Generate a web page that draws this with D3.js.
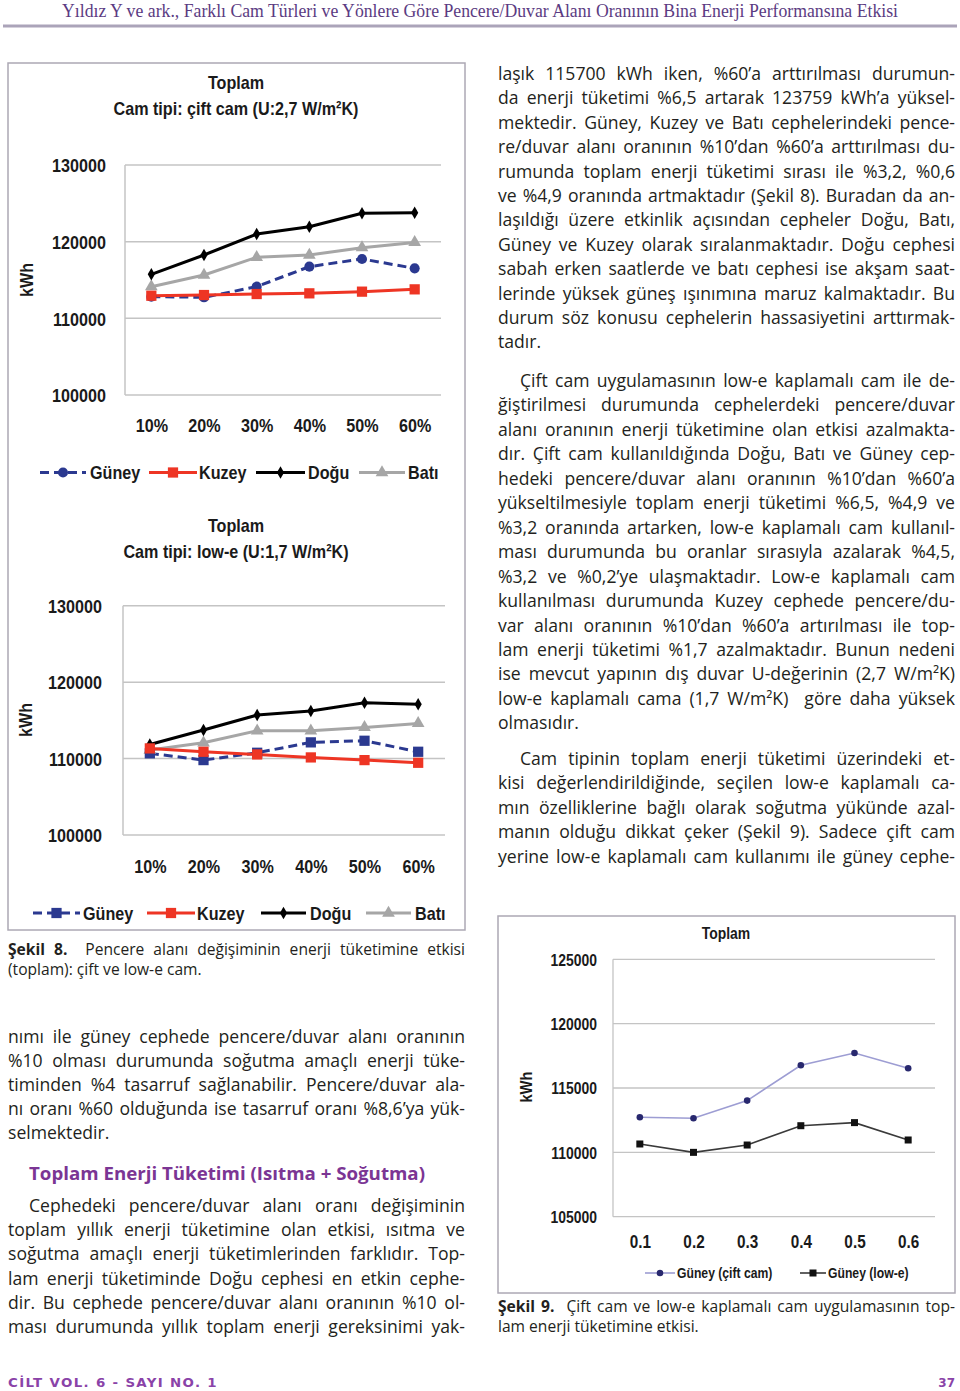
<!DOCTYPE html>
<html><head><meta charset="utf-8">
<script src="https://cdn.jsdelivr.net/npm/d3@7"></script>
<style>
html,body{margin:0;padding:0;background:#fff;}
svg{display:block;}
</style></head>
<body>
<script>
// ---------- DATA ----------
const cats = ["10%","20%","30%","40%","50%","60%"];
const yTicks1 = [100000,110000,120000,130000];
const ciftGuney = [112830,112740,114130,116740,117740,116520];
const ciftKuzey = [112950,113040,113170,113260,113480,113780];
const ciftDogu  = [115743,118260,121000,121950,123700,123759];
const ciftBati  = [114130,115650,117960,118260,119220,119900];
const loweGuney = [110680,109800,110760,112120,112330,110890];
const loweKuzey = [111330,110890,110540,110150,109800,109450];
const loweDogu  = [111850,113730,115690,116210,117300,117120];
const loweBati  = [111110,112070,113640,113640,114080,114600];
const cats9 = ["0.1","0.2","0.3","0.4","0.5","0.6"];
const yTicks9 = [105000,110000,115000,120000,125000];
const s9Cift = [112730,112650,114020,116770,117720,116530];
const s9Lowe = [110650,110000,110570,112070,112310,110960];
const seriesNames = ["Güney","Kuzey","Doğu","Batı"];
const legend9 = ["Güney (çift cam)","Güney (low-e)"];

const headerText = "Yıldız Y ve ark., Farklı Cam Türleri ve Yönlere Göre Pencere/Duvar Alanı Oranının Bina Enerji Performansına Etkisi";
const rightP1 = [
"laşık 115700 kWh iken, %60’a arttırılması durumun-",
"da enerji tüketimi %6,5 artarak 123759 kWh’a yüksel-",
"mektedir. Güney, Kuzey ve Batı cephelerindeki pence-",
"re/duvar alanı oranının %10’dan %60’a arttırılması du-",
"rumunda toplam enerji tüketimi sırası ile %3,2, %0,6",
"ve %4,9 oranında artmaktadır (Şekil 8). Buradan da an-",
"laşıldığı üzere etkinlik açısından cepheler Doğu, Batı,",
"Güney ve Kuzey olarak sıralanmaktadır. Doğu cephesi",
"sabah erken saatlerde ve batı cephesi ise akşam saat-",
"lerinde yüksek güneş ışınımına maruz kalmaktadır. Bu",
"durum söz konusu cephelerin hassasiyetini arttırmak-",
"tadır."];
const rightP2 = [
"Çift cam uygulamasının low-e kaplamalı cam ile de-",
"ğiştirilmesi durumunda cephelerdeki pencere/duvar",
"alanı oranının enerji tüketimine olan etkisi azalmakta-",
"dır. Çift cam kullanıldığında Doğu, Batı ve Güney cep-",
"hedeki pencere/duvar alanı oranının %10’dan %60’a",
"yükseltilmesiyle toplam enerji tüketimi %6,5, %4,9 ve",
"%3,2 oranında artarken, low-e kaplamalı cam kullanıl-",
"ması durumunda bu oranlar sırasıyla azalarak %4,5,",
"%3,2 ve %0,2’ye ulaşmaktadır. Low-e kaplamalı cam",
"kullanılması durumunda Kuzey cephede pencere/du-",
"var alanı oranının %10’dan %60’a artırılması ile top-",
"lam enerji tüketimi %1,7 azalmaktadır. Bunun nedeni",
"ise mevcut yapının dış duvar U-değerinin (2,7 W/m²K)",
"low-e kaplamalı cama (1,7 W/m²K)  göre daha yüksek",
"olmasıdır."];
const rightP3 = [
"Cam tipinin toplam enerji tüketimi üzerindeki et-",
"kisi değerlendirildiğinde, seçilen low-e kaplamalı ca-",
"mın özelliklerine bağlı olarak soğutma yükünde azal-",
"manın olduğu dikkat çeker (Şekil 9). Sadece çift cam",
"yerine low-e kaplamalı cam kullanımı ile güney cephe-"];
const leftP1 = [
"nımı ile güney cephede pencere/duvar alanı oranının",
"%10 olması durumunda soğutma amaçlı enerji tüke-",
"timinden %4 tasarruf sağlanabilir. Pencere/duvar ala-",
"nı oranı %60 olduğunda ise tasarruf oranı %8,6’ya yük-",
"selmektedir."];
const leftHeading = "Toplam Enerji Tüketimi (Isıtma + Soğutma)";
const leftP2 = [
"Cephedeki pencere/duvar alanı oranı değişiminin",
"toplam yıllık enerji tüketimine olan etkisi, ısıtma ve",
"soğutma amaçlı enerji tüketimlerinden farklıdır. Top-",
"lam enerji tüketiminde Doğu cephesi en etkin cephe-",
"dir. Bu cephede pencere/duvar alanı oranının %10 ol-",
"ması durumunda yıllık toplam enerji gereksinimi yak-"];
const cap8 = ["Şekil 8.", "  Pencere alanı değişiminin enerji tüketimine etkisi", "(toplam): çift ve low-e cam."];
const cap9 = ["Şekil 9.", "  Çift cam ve low-e kaplamalı cam uygulamasının top-", "lam enerji tüketimine etkisi."];

// ---------- SETUP ----------
const W = 960, H = 1391;
const svg = d3.select("body").append("svg").attr("width", W).attr("height", H);
const TXT = "#231f20";
const BODY_FONT = "'Open Sans', Lato, sans-serif";
const CH_FONT = "'Liberation Sans', Arial, sans-serif";

function condense(sel, f){
  sel.each(function(){
    const w = this.getComputedTextLength();
    d3.select(this).attr("textLength", w*f).attr("lengthAdjust","spacingAndGlyphs");
  });
}
function justify(textNode, target){
  const w = textNode.getComputedTextLength();
  const n = (textNode.textContent.trim().match(/ /g) || []).length;
  if (w > target) {
    d3.select(textNode).attr("textLength", target).attr("lengthAdjust","spacingAndGlyphs");
  } else if (n > 0) {
    d3.select(textNode).style("word-spacing", ((target - w)/n) + "px");
  }
}

// ---------- HEADER / FOOTER ----------
const hdr = svg.append("text").attr("x", 480).attr("y", 17).attr("text-anchor","middle")
  .attr("font-family","'Liberation Serif', 'DejaVu Serif', serif").attr("font-size",18)
  .attr("fill","#5b3b82").text(headerText);
hdr.attr("textLength", 836).attr("lengthAdjust","spacingAndGlyphs");
svg.append("line").attr("x1",3).attr("x2",957).attr("y1",26).attr("y2",26)
  .attr("stroke","#aba4b9").attr("stroke-width",3);

const ft = svg.append("text").attr("x",8).attr("y",1387).attr("font-family","'DejaVu Sans', sans-serif")
  .attr("font-weight","bold").attr("font-size",12).attr("fill","#8a43a8").attr("letter-spacing",1.2)
  .attr("xml:space","preserve").style("white-space","pre")
  .text("CİLT VOL. 6 - SAYI NO. 1");
ft.attr("textLength",210).attr("lengthAdjust","spacingAndGlyphs");
svg.append("text").attr("x",955).attr("y",1387).attr("text-anchor","end")
  .attr("font-family","'DejaVu Sans', sans-serif").attr("font-weight","bold").attr("font-size",12)
  .attr("fill","#8a43a8").text("37");

// ---------- BODY TEXT ----------
function drawPara(lines, o){
  const g = svg.append("g");
  lines.forEach((ln, i) => {
    const isLast = i === lines.length - 1;
    const x = o.x + (i === 0 && o.indent ? o.indent : 0);
    const t = g.append("text").attr("x", x).attr("y", o.y + i*o.lh)
      .attr("font-family", BODY_FONT).attr("font-size", o.size).attr("fill", TXT)
      .attr("xml:space","preserve").style("white-space","pre").text(ln);
    if (!isLast || o.lastJust) justify(t.node(), o.x + o.w - x);
  });
}
const BS = 17.6;
drawPara(rightP1, {x:498, w:457, y:80, lh:24.4, size:BS, lastJust:false});
drawPara(rightP2, {x:498, w:457, y:387, lh:24.45, size:BS, indent:22, lastJust:false});
drawPara(rightP3, {x:498, w:457, y:765, lh:24.4, size:BS, indent:22, lastJust:true});
drawPara(leftP1, {x:8, w:457, y:1043, lh:23.9, size:BS, lastJust:false});
const hd = svg.append("text").attr("x",29).attr("y",1180).attr("font-family",BODY_FONT).attr("font-weight","bold")
  .attr("font-size",18.5).attr("fill","#7b3594").text(leftHeading);
hd.attr("textLength",396).attr("lengthAdjust","spacingAndGlyphs");
drawPara(leftP2, {x:8, w:457, y:1212, lh:24.2, size:BS, indent:21, lastJust:true});

function caption(c, x, y, w){
  const t1 = svg.append("text").attr("x",x).attr("y",y).attr("font-family",BODY_FONT)
    .attr("font-size",15.6).attr("fill",TXT).attr("xml:space","preserve").style("white-space","pre");
  t1.append("tspan").attr("font-weight","bold").text(c[0]);
  t1.append("tspan").text(c[1]);
  justify(t1.node(), w);
  svg.append("text").attr("x",x).attr("y",y+20).attr("font-family",BODY_FONT)
    .attr("font-size",15.6).attr("fill",TXT).text(c[2]);
}
caption(cap8, 8, 955, 457);
caption(cap9, 498, 1312, 457);

// ---------- CHART FRAMES ----------
svg.append("rect").attr("x",8).attr("y",63).attr("width",457).attr("height",867)
  .attr("fill","none").attr("stroke","#aca8b4").attr("stroke-width",1.5);
svg.append("rect").attr("x",498).attr("y",916).attr("width",457).attr("height",377)
  .attr("fill","none").attr("stroke","#aca8b4").attr("stroke-width",1.5);

const COL = {Güney:"#2b3990", Kuzey:"#ee3524", Doğu:"#000000", Batı:"#a6a6a6"};

function chartText(g, x, y, txt, size, anchor, f){
  const t = g.append("text").attr("x",x).attr("y",y).attr("text-anchor",anchor||"middle")
    .attr("font-family",CH_FONT).attr("font-weight","bold").attr("font-size",size).attr("fill","#1a1a1a").text(txt);
  condense(t, f||0.85);
  return t;
}

function symbolPath(kind){
  if (kind === "circle") return d3.symbol(d3.symbolCircle, 80)();
  if (kind === "square") return d3.symbol(d3.symbolSquare, 105)();
  if (kind === "diamond") return d3.symbol(d3.symbolDiamond, 45)();
  if (kind === "triangle") return d3.symbol(d3.symbolTriangle, 70)();
}

function facadeChart(o){
  const g = svg.append("g");
  const x = d3.scalePoint(cats, [o.x0, o.x1]).padding(0.5);
  const y = d3.scaleLinear([100000,130000], [o.yb, o.yt]);
  chartText(g, 236, o.titleY, "Toplam", 19);
  chartText(g, 236, o.titleY+26, o.sub, 19);
  g.selectAll(".grid").data(yTicks1).join("line")
    .attr("x1",o.x0).attr("x2",o.x1).attr("y1",d=>y(d)).attr("y2",d=>y(d))
    .attr("stroke","#c4c4c4").attr("stroke-width",1.5);
  g.append("line").attr("x1",o.x0).attr("x2",o.x0).attr("y1",o.yt).attr("y2",o.yb)
    .attr("stroke","#c4c4c4").attr("stroke-width",1.5);
  const ya = g.append("g").attr("transform",`translate(${o.x0 - o.lpad},0)`)
    .call(d3.axisLeft(y).tickValues(yTicks1).tickSize(0).tickPadding(0).tickFormat(d3.format("d")));
  ya.select(".domain").remove();
  ya.selectAll("text").attr("x",0).attr("dy","0.36em").attr("font-family",CH_FONT)
    .attr("font-weight","bold").attr("font-size",19).attr("fill","#1a1a1a");
  condense(ya.selectAll("text"), 0.85);
  const xa = g.append("g").attr("transform",`translate(0,${o.xlabY})`)
    .call(d3.axisBottom(x).tickSize(0).tickPadding(0));
  xa.select(".domain").remove();
  xa.selectAll("text").attr("y",0).attr("dy",0).attr("font-family",CH_FONT)
    .attr("font-weight","bold").attr("font-size",19).attr("fill","#1a1a1a");
  condense(xa.selectAll("text"), 0.85);
  const kw = g.append("text").attr("transform",`translate(${o.kx},${o.ky}) rotate(-90)`)
    .attr("text-anchor","middle").attr("font-family",CH_FONT).attr("font-weight","bold")
    .attr("font-size",19).attr("fill","#1a1a1a").text("kWh");
  condense(kw, 0.85);
  const line = d3.line().x((d,i)=>x(cats[i])).y(d=>y(d));
  o.series.forEach(s => {
    g.append("path").attr("d", line(s.values)).attr("fill","none").attr("stroke",COL[s.name])
      .attr("stroke-width",3).attr("stroke-dasharray", s.dash ? "9,5" : null).attr("stroke-linejoin","round");
  });
  o.series.forEach(s => {
    g.selectAll(null).data(s.values).join("path")
      .attr("transform",(d,i)=>`translate(${x(cats[i])},${y(d)})`)
      .attr("d", symbolPath(s.marker)).attr("fill",COL[s.name]);
  });
  o.legend.forEach((L, i) => {
    const s = o.series.find(q => q.name === L.name);
    g.append("line").attr("x1",L.l0).attr("x2",L.l1).attr("y1",o.legY).attr("y2",o.legY)
      .attr("stroke",COL[s.name]).attr("stroke-width",3).attr("stroke-dasharray", s.dash ? "9,5" : null);
    g.append("path").attr("transform",`translate(${(L.l0+L.l1)/2},${o.legY})`)
      .attr("d", symbolPath(s.marker)).attr("fill",COL[s.name]);
    chartText(g, L.tx, o.legY, s.name, 19, "start").attr("dy","0.36em");
  });
}

facadeChart({
  x0:125, x1:441, yt:165, yb:395, lpad:19, titleY:89, xlabY:432, kx:33, ky:280,
  sub:"Cam tipi: çift cam (U:2,7 W/m²K)",
  series:[
    {name:"Batı", values:ciftBati, marker:"triangle"},
    {name:"Doğu", values:ciftDogu, marker:"diamond"},
    {name:"Güney", values:ciftGuney, marker:"circle", dash:true},
    {name:"Kuzey", values:ciftKuzey, marker:"square"}
  ],
  legY:472.5,
  legend:[
    {name:"Güney", l0:40, l1:86, tx:90},
    {name:"Kuzey", l0:149, l1:197, tx:199},
    {name:"Doğu", l0:256, l1:305, tx:308},
    {name:"Batı", l0:359, l1:405, tx:408}
  ]
});
facadeChart({
  x0:123, x1:445, yt:605.7, yb:835, lpad:21, titleY:532, xlabY:873, kx:32, ky:720,
  sub:"Cam tipi: low-e (U:1,7 W/m²K)",
  series:[
    {name:"Batı", values:loweBati, marker:"triangle"},
    {name:"Doğu", values:loweDogu, marker:"diamond"},
    {name:"Güney", values:loweGuney, marker:"square", dash:true},
    {name:"Kuzey", values:loweKuzey, marker:"square"}
  ],
  legY:913,
  legend:[
    {name:"Güney", l0:33, l1:80, tx:83},
    {name:"Kuzey", l0:147, l1:195, tx:197},
    {name:"Doğu", l0:261, l1:306, tx:310},
    {name:"Batı", l0:366, l1:411, tx:415}
  ]
});

// ---------- CHART 9 ----------
(function(){
  const g = svg.append("g");
  const x0 = 613, x1 = 935, yt = 959.3, yb = 1216.7;
  const x = d3.scalePoint(cats9, [x0, x1]).padding(0.5);
  const y = d3.scaleLinear([105000,125000], [yb, yt]);
  chartText(g, 726, 939, "Toplam", 16, "middle", 0.87);
  g.selectAll(".grid").data(yTicks9).join("line")
    .attr("x1",x0).attr("x2",x1).attr("y1",d=>y(d)).attr("y2",d=>y(d))
    .attr("stroke","#c4c4c4").attr("stroke-width",1.3);
  g.append("line").attr("x1",x0).attr("x2",x0).attr("y1",yt).attr("y2",yb)
    .attr("stroke","#c4c4c4").attr("stroke-width",1.3);
  const ya = g.append("g").attr("transform",`translate(597,0)`)
    .call(d3.axisLeft(y).tickValues(yTicks9).tickSize(0).tickPadding(0).tickFormat(d3.format("d")));
  ya.select(".domain").remove();
  ya.selectAll("text").attr("x",0).attr("dy","0.36em").attr("font-family",CH_FONT)
    .attr("font-weight","bold").attr("font-size",16).attr("fill","#1a1a1a");
  condense(ya.selectAll("text"), 0.87);
  const xa = g.append("g").attr("transform",`translate(0,1248)`)
    .call(d3.axisBottom(x).tickSize(0).tickPadding(0));
  xa.select(".domain").remove();
  xa.selectAll("text").attr("y",0).attr("dy",0).attr("font-family",CH_FONT)
    .attr("font-weight","bold").attr("font-size",18).attr("fill","#1a1a1a");
  condense(xa.selectAll("text"), 0.85);
  const kw = g.append("text").attr("transform",`translate(532,1087) rotate(-90)`)
    .attr("text-anchor","middle").attr("font-family",CH_FONT).attr("font-weight","bold")
    .attr("font-size",17).attr("fill","#1a1a1a").text("kWh");
  condense(kw, 0.87);
  const line = d3.line().x((d,i)=>x(cats9[i])).y(d=>y(d));
  g.append("path").attr("d",line(s9Cift)).attr("fill","none").attr("stroke","#9d9dd3").attr("stroke-width",1.6);
  g.append("path").attr("d",line(s9Lowe)).attr("fill","none").attr("stroke","#3a3a3a").attr("stroke-width",1.6);
  g.selectAll(null).data(s9Cift).join("circle").attr("cx",(d,i)=>x(cats9[i])).attr("cy",d=>y(d))
    .attr("r",3.3).attr("fill","#28286e");
  g.selectAll(null).data(s9Lowe).join("rect").attr("x",(d,i)=>x(cats9[i])-3.5).attr("y",d=>y(d)-3.5)
    .attr("width",7).attr("height",7).attr("fill","#111");
  const ly = 1273;
  g.append("line").attr("x1",645).attr("x2",675).attr("y1",ly).attr("y2",ly).attr("stroke","#9d9dd3").attr("stroke-width",1.6);
  g.append("circle").attr("cx",660).attr("cy",ly).attr("r",3.3).attr("fill","#28286e");
  chartText(g, 677, ly, legend9[0], 14, "start", 0.87).attr("dy","0.36em");
  g.append("line").attr("x1",800).attr("x2",826).attr("y1",ly).attr("y2",ly).attr("stroke","#3a3a3a").attr("stroke-width",1.6);
  g.append("rect").attr("x",813-3.5).attr("y",ly-3.5).attr("width",7).attr("height",7).attr("fill","#111");
  chartText(g, 828, ly, legend9[1], 14, "start", 0.87).attr("dy","0.36em");
})();
</script>
</body></html>
